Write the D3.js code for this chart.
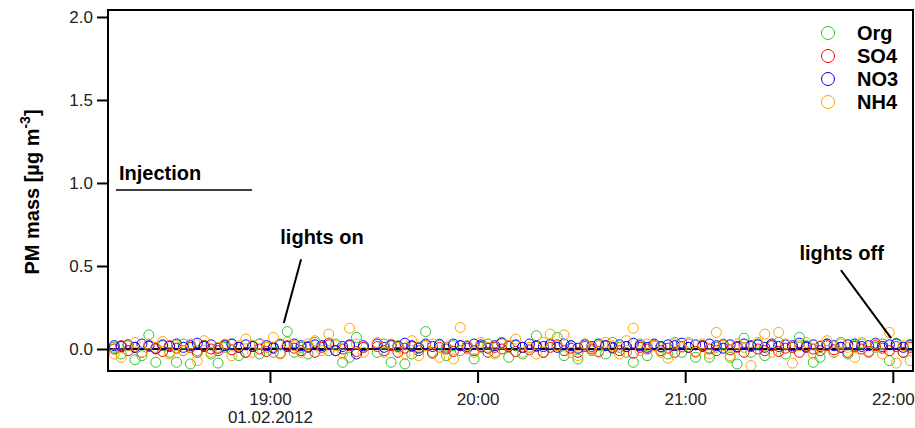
<!DOCTYPE html>
<html>
<head>
<meta charset="utf-8">
<script src="https://cdn.jsdelivr.net/npm/d3@7"></script>
<style>
  body { margin: 0; background: #fff; }
  text { font-family: "Liberation Sans", Arial, sans-serif; }
</style>
</head>
<body>
<script>
// sample grid: one point every 2 minutes from 18:15
var startTime = "2012-02-01T18:15:00";
var stepMin = 2;

var seriesNames = ["Org", "SO4", "NO3", "NH4"];
var seriesColors = ["#2ec72e", "#ff0000", "#0000ff", "#ffa500"];

var org = [
  0.01, -0.03, 0.02, -0.065, -0.04, 0.085, -0.08, 0.02, -0.02, -0.08,
  0.03, -0.09, -0.01, 0.02, -0.03, -0.085, 0.01, 0.03, -0.04, -0.02,
  0.02, -0.03, 0.01, -0.02, 0.03, 0.105, -0.02, 0.01, -0.03, 0.04,
  0.02, -0.01, 0.03, -0.08, -0.05, 0.07, 0.01, null, -0.02, 0.03,
  -0.08, 0.02, -0.09, -0.03, 0.01, 0.105, -0.02, 0.03, -0.04, 0.02,
  -0.01, 0.02, -0.06, 0.01, 0.03, -0.02, 0.04, -0.05, 0.02, -0.03,
  0.01, 0.08, -0.02, 0.03, 0.07, -0.04, 0.02, -0.06, 0.03, -0.01,
  0.02, -0.03, 0.04, 0.01, -0.02, -0.08, 0.03, -0.04, 0.02, 0.01,
  -0.03, 0.04, -0.02, 0.03, -0.05, 0.02, -0.05, 0.01, 0.03, -0.05,
  -0.09, 0.065, -0.02, 0.03, -0.04, 0.02, 0.04, -0.03, 0.01, 0.07,
  0.02, -0.08, -0.05, 0.03, -0.02, 0.04, -0.03, 0.02, 0.03, -0.02,
  0.01, 0.03, -0.07, 0.035, -0.02, 0.02
];
var so4 = [
  0.0, 0.02, -0.01, 0.01, -0.02, 0.015, 0.0, -0.015, 0.02, 0.005,
  -0.01, 0.01, -0.02, 0.02, 0.0, -0.01, 0.025, -0.005, 0.01, -0.02,
  0.015, 0.0, -0.015, 0.01, -0.025, 0.02, 0.005, -0.01, 0.015, -0.02,
  0.01, 0.025, -0.01, 0.0, 0.02, -0.015, 0.01, null, 0.015, -0.01,
  0.02, -0.02, 0.005, 0.015, -0.01, 0.02, -0.025, 0.01, 0.0, -0.015,
  0.02, 0.005, -0.01, 0.015, -0.02, 0.01, 0.0, 0.02, -0.015, 0.01,
  -0.005, 0.015, -0.02, 0.01, 0.025, -0.01, 0.005, -0.02, 0.015, 0.0,
  -0.015, 0.02, 0.005, -0.01, 0.015, -0.025, 0.01, 0.0, 0.02, -0.01,
  0.005, -0.02, 0.015, 0.01, -0.015, 0.02, 0.0, -0.01, 0.025, -0.005,
  0.01, -0.02, 0.015, 0.0, -0.01, 0.02, -0.015, 0.005, 0.01, -0.02,
  0.015, 0.0, -0.01, 0.02, -0.005, 0.01, -0.02, 0.015, 0.0, -0.015,
  0.02, 0.005, -0.01, 0.015, -0.02, 0.01
];
var no3 = [
  0.02, 0.015, 0.025, 0.01, 0.03, 0.02, 0.005, 0.025, 0.015, 0.03,
  0.01, 0.02, 0.035, 0.015, 0.025, 0.005, 0.02, 0.03, 0.01, 0.025,
  0.015, 0.03, 0.02, 0.005, 0.025, 0.015, 0.03, 0.02, 0.01, 0.025,
  0.02, 0.035, -0.01, 0.015, 0.025, -0.03, 0.02, null, 0.03, 0.01,
  0.025, 0.015, 0.035, 0.02, 0.005, 0.03, 0.015, 0.025, 0.01, 0.03,
  0.02, 0.015, 0.03, 0.025, 0.005, 0.02, 0.035, 0.015, 0.025, 0.01,
  0.03, 0.02, 0.015, 0.025, 0.01, 0.03, 0.02, 0.005, 0.025, 0.015,
  0.03, 0.02, 0.01, 0.025, 0.015, 0.035, 0.02, 0.01, 0.03, 0.015,
  0.025, 0.02, 0.035, 0.01, 0.025, 0.015, 0.03, 0.02, 0.005, 0.025,
  0.015, 0.03, 0.02, 0.025, 0.01, 0.03, 0.015, 0.025, 0.02, 0.035,
  0.01, 0.025, 0.015, 0.03, 0.02, 0.01, 0.025, 0.03, 0.015, 0.02,
  0.035, 0.015, 0.025, 0.03, 0.01, 0.025
];
var nh4 = [
  -0.03, -0.05, 0.02, 0.04, -0.02, 0.03, 0.01, 0.045, -0.03, 0.02,
  -0.01, 0.03, -0.07, 0.05, -0.02, 0.01, 0.03, -0.04, 0.02, 0.06,
  -0.02, 0.03, 0.01, 0.07, -0.03, 0.04, 0.02, -0.02, 0.03, 0.05,
  -0.01, 0.09, 0.02, -0.03, 0.125, 0.03, -0.02, null, 0.04, -0.02,
  0.03, 0.01, -0.03, 0.05, -0.04, 0.02, 0.03, -0.05, 0.01, -0.06,
  0.13, 0.02, -0.02, 0.04, 0.01, -0.03, 0.03, 0.02, 0.06, -0.02,
  0.01, -0.03, 0.04, 0.09, 0.02, 0.085, -0.02, -0.04, 0.03, 0.01,
  -0.02, 0.04, 0.02, -0.03, 0.05, 0.125, -0.01, 0.03, 0.02, -0.02,
  -0.055, 0.03, 0.01, 0.04, -0.02, 0.03, -0.03, 0.1, 0.02, -0.04,
  0.03, 0.01, -0.1, 0.04, 0.09, -0.02, 0.1, 0.03, -0.085, 0.02,
  0.04, -0.03, 0.02, 0.05, -0.02, 0.03, 0.01, -0.05, 0.04, -0.02,
  0.03, -0.03, 0.1, -0.085, 0.02, -0.07
];
var seriesValues = [org, so4, no3, nh4];

var yTicks = [0, 0.5, 1.0, 1.5, 2.0];
var xTicks = ["19:00", "20:00", "21:00", "22:00"];
var dateLabel = "01.02.2012";

// annotations (times and values on the chart's axes)
var injection = {label: "Injection", from: "18:15:30", to: "18:54:50", value: 0.958};
var lightsOn = {label: "lights on", textAt: ["19:03", 0.635], lineFrom: ["19:09", 0.54], lineTo: ["19:04", 0.156]};
var lightsOff = {label: "lights off", textAt: ["21:33", 0.535], lineFrom: ["21:45", 0.475], lineTo: ["21:59.5", 0.066]};

var W = 915, H = 428;
var m = {left: 108, right: 2, top: 10, bottom: 57};

var parse = d3.timeParse("%Y-%m-%dT%H:%M:%S");
function tm(s) {
  var p = s.split(":");
  var sec = p.length > 2 ? +p[2] : 0;
  var min = parseFloat(p[1]);
  return new Date(2012, 1, 1, +p[0], Math.floor(min), sec + (min % 1) * 60);
}

var t0 = parse(startTime);
var x = d3.scaleTime()
  .domain([tm("18:13:12"), tm("22:05:50")])
  .range([m.left, W - m.right]);
var y = d3.scaleLinear()
  .domain([-0.1325, 2.042])
  .range([H - m.bottom, m.top]);

var svg = d3.select("body").append("svg")
  .attr("width", W)
  .attr("height", H);

// zero line
svg.append("line")
  .attr("x1", m.left).attr("x2", W - m.right)
  .attr("y1", y(0)).attr("y2", y(0))
  .attr("stroke", "#000").attr("stroke-width", 2);

// points
svg.append("clipPath").attr("id", "plotclip")
  .append("rect")
  .attr("x", m.left).attr("y", m.top)
  .attr("width", W - m.right - m.left).attr("height", H - m.bottom - m.top);

seriesValues.forEach(function(vals, k) {
  var pts = [];
  vals.forEach(function(v, i) {
    if (v !== null) pts.push({t: d3.timeMinute.offset(t0, i * stepMin), v: v});
  });
  svg.append("g").attr("clip-path", "url(#plotclip)")
    .selectAll("circle").data(pts).enter().append("circle")
    .attr("cx", function(d) { return x(d.t); })
    .attr("cy", function(d) { return y(d.v); })
    .attr("r", 5)
    .attr("fill", "none")
    .attr("stroke", seriesColors[k])
    .attr("stroke-width", 1);
});

// frame
svg.append("rect")
  .attr("x", m.left).attr("y", m.top)
  .attr("width", W - m.right - m.left).attr("height", H - m.bottom - m.top)
  .attr("fill", "none").attr("stroke", "#000").attr("stroke-width", 2);

// y axis
var yAxis = d3.axisLeft(y).tickValues(yTicks).tickFormat(d3.format(".1f"))
  .tickSize(11).tickPadding(4);
var gy = svg.append("g").attr("transform", "translate(" + m.left + ",0)").call(yAxis);
gy.select(".domain").remove();
gy.selectAll(".tick line").attr("stroke-width", 2);
gy.selectAll(".tick text").attr("font-size", 17).attr("fill", "#222");

// x axis
var xAxis = d3.axisBottom(x)
  .tickValues(xTicks.map(tm))
  .tickFormat(d3.timeFormat("%H:%M"))
  .tickSize(12).tickPadding(10);
var gx = svg.append("g").attr("transform", "translate(0," + (H - m.bottom) + ")").call(xAxis);
gx.select(".domain").remove();
gx.selectAll(".tick line").attr("stroke-width", 2);
gx.selectAll(".tick text").attr("font-size", 17).attr("fill", "#222");
gx.selectAll(".tick").filter(function(d, i) { return i === 0; })
  .append("text")
  .attr("y", 52).attr("text-anchor", "middle")
  .attr("font-size", 17).attr("fill", "#222")
  .text(dateLabel);

// y label
var yl = svg.append("text")
  .attr("transform", "translate(39," + 192 + ") rotate(-90)")
  .attr("text-anchor", "middle")
  .attr("font-size", 20).attr("font-weight", "bold");
yl.append("tspan").text("PM mass [µg m");
yl.append("tspan").attr("dy", -9).attr("font-size", 14).text("-3");
yl.append("tspan").attr("dy", 9).text("]");

// legend
var lg = svg.append("g").attr("transform", "translate(828,33)");
seriesNames.forEach(function(name, k) {
  lg.append("circle").attr("cx", 0).attr("cy", k * 23).attr("r", 6.5)
    .attr("fill", "none").attr("stroke", seriesColors[k]).attr("stroke-width", 1);
  lg.append("text").attr("x", 29).attr("y", k * 23 + 7)
    .attr("font-size", 20).attr("font-weight", "bold").text(name);
});

// annotations
svg.append("line")
  .attr("x1", x(tm(injection.from))).attr("x2", x(tm(injection.to)))
  .attr("y1", y(injection.value)).attr("y2", y(injection.value))
  .attr("stroke", "#000").attr("stroke-width", 1.5);
svg.append("text")
  .attr("x", x(tm(injection.from)) + 3).attr("y", y(injection.value) - 10)
  .attr("font-size", 20).attr("font-weight", "bold").text(injection.label);

[lightsOn, lightsOff].forEach(function(a) {
  svg.append("text")
    .attr("x", x(tm(a.textAt[0]))).attr("y", y(a.textAt[1]))
    .attr("font-size", 20).attr("font-weight", "bold").text(a.label);
  svg.append("line")
    .attr("x1", x(tm(a.lineFrom[0]))).attr("y1", y(a.lineFrom[1]))
    .attr("x2", x(tm(a.lineTo[0]))).attr("y2", y(a.lineTo[1]))
    .attr("stroke", "#000").attr("stroke-width", 2);
});
</script>
</body>
</html>
